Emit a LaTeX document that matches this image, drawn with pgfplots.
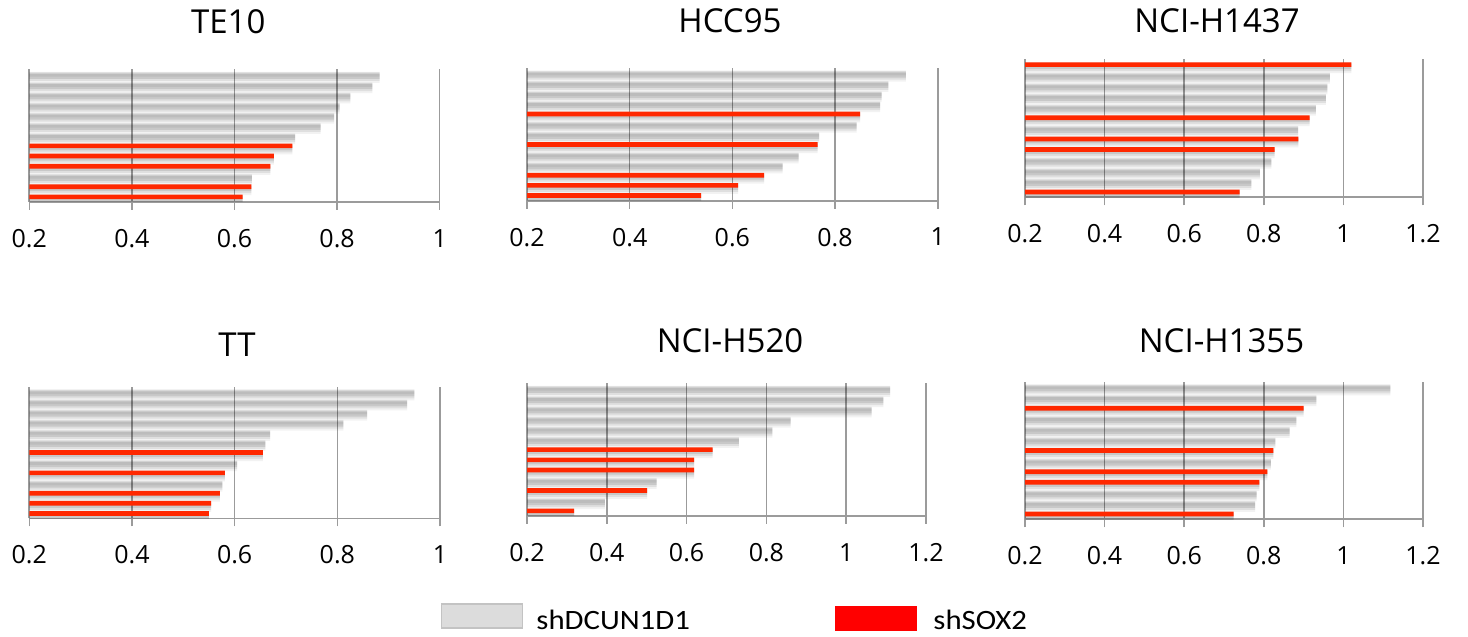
\documentclass[border=0pt]{standalone}
\usepackage{fontspec}
\setmainfont{Open Sans}
\newfontfamily\legfont[FakeStretch=1.1]{Carlito}
\usepackage{pgfplots}
\pgfplotsset{compat=1.18}
\usepackage{pgfplotstable}
\definecolor{barred}{RGB}{255,40,0}
\definecolor{gridgray}{RGB}{155,155,155}
\definecolor{leggray}{RGB}{220,220,220}
\definecolor{legborder}{RGB}{195,195,195}
\definecolor{legred}{RGB}{255,0,0}

% TE10
\pgfplotstableread{
y a g r
13 0.883 0.883 nan
12 0.869 0.869 nan
11 0.826 0.826 nan
10 0.805 0.805 nan
9 0.794 0.794 nan
8 0.768 0.768 nan
7 0.718 0.718 nan
6 0.713 nan 0.713
5 0.677 nan 0.677
4 0.670 nan 0.670
3 0.634 0.634 nan
2 0.633 nan 0.633
1 0.616 nan 0.616
}\tA
% HCC95
\pgfplotstableread{
y a g r
13 0.938 0.938 nan
12 0.904 0.904 nan
11 0.891 0.891 nan
10 0.888 0.888 nan
9 0.849 nan 0.849
8 0.842 0.842 nan
7 0.769 0.769 nan
6 0.766 nan 0.766
5 0.729 0.729 nan
4 0.698 0.698 nan
3 0.662 nan 0.662
2 0.611 nan 0.611
1 0.539 nan 0.539
}\tB
% NCI-H1437
\pgfplotstableread{
y a g r
13 1.020 nan 1.020
12 0.966 0.966 nan
11 0.960 0.960 nan
10 0.956 0.956 nan
9 0.931 0.931 nan
8 0.915 nan 0.915
7 0.886 0.886 nan
6 0.887 nan 0.887
5 0.827 nan 0.827
4 0.819 0.819 nan
3 0.790 0.790 nan
2 0.769 0.769 nan
1 0.739 nan 0.739
}\tC
% TT
\pgfplotstableread{
y a g r
13 0.950 0.950 nan
12 0.936 0.936 nan
11 0.858 0.858 nan
10 0.812 0.812 nan
9 0.669 0.669 nan
8 0.660 0.660 nan
7 0.655 nan 0.655
6 0.605 0.605 nan
5 0.581 nan 0.581
4 0.576 0.576 nan
3 0.571 nan 0.571
2 0.554 nan 0.554
1 0.550 nan 0.550
}\tD
% NCI-H520
\pgfplotstableread{
y a g r
13 1.110 1.110 nan
12 1.093 1.093 nan
11 1.064 1.064 nan
10 0.861 0.861 nan
9 0.815 0.815 nan
8 0.731 0.731 nan
7 0.665 nan 0.665
6 0.619 nan 0.619
5 0.619 nan 0.619
4 0.525 0.525 nan
3 0.501 nan 0.501
2 0.395 0.395 nan
1 0.318 nan 0.318
}\tE
% NCI-H1355
\pgfplotstableread{
y a g r
13 1.118 1.118 nan
12 0.932 0.932 nan
11 0.900 nan 0.900
10 0.882 0.882 nan
9 0.865 0.865 nan
8 0.829 0.829 nan
7 0.824 nan 0.824
6 0.818 0.818 nan
5 0.809 nan 0.809
4 0.789 nan 0.789
3 0.782 0.782 nan
2 0.778 0.778 nan
1 0.724 nan 0.724
}\tF

\pgfplotsset{
  panel/.style={
    scale only axis, anchor=south west,
    ymin=0.5, ymax=13.5, xmin=0.2,
    axis lines=left,
    axis line style={-, draw=gridgray, line width=1.8pt},
    xmajorgrids, grid style={draw=gridgray, line width=1.6pt},
    ytick=\empty,
    tick align=outside, major tick length=8pt,
    x tick style={draw=gridgray, line width=1.6pt},
    xticklabel style={font=\fontsize{25}{28}\selectfont, inner sep=0pt, anchor=north, yshift=-19pt},
  },
  sh1/.style={xbar, bar width=11pt, bar shift=-3pt, fill=black, fill opacity=0.05, draw=none},
  sh2/.style={xbar, bar width=8pt, bar shift=-2.5pt, fill=black, fill opacity=0.08, draw=none},
  sh3/.style={xbar, bar width=5pt, bar shift=-2pt, fill=black, fill opacity=0.10, draw=none},
  core/.style={xbar, bar width=4.5pt, bar shift=0pt, fill=black, fill opacity=0.06, draw=none},
  redbar/.style={xbar, bar width=4.7pt, bar shift=0pt, fill=barred, draw=none},
  ticksA/.style={xmax=1, xtick={0.2,0.4,0.6,0.8,1}, xticklabels={0.2,0.4,0.6,0.8,1}},
  ticksB/.style={xmax=1.2, xtick={0.2,0.4,0.6,0.8,1,1.2}, xticklabels={0.2,0.4,0.6,0.8,1,1.2}},
}
\newcommand{\panelplots}[1]{%
  \addplot[sh1] table[x=a,y=y]{#1};
  \addplot[sh2] table[x=a,y=y]{#1};
  \addplot[sh3] table[x=a,y=y]{#1};
  \addplot[core] table[x=g,y=y]{#1};
  \addplot[redbar] table[x=r,y=y]{#1};
}

\begin{document}
\begin{tikzpicture}
\path[use as bounding box] (0pt,0pt) rectangle (1468pt,637pt);

\begin{axis}[panel, ticksA, at={(29.3pt,435pt)}, width=410.4pt, height=132.7pt]
\panelplots{\tA}
\end{axis}
\begin{axis}[panel, ticksA, at={(527pt,436.3pt)}, width=410.7pt, height=132.7pt]
\panelplots{\tB}
\end{axis}
\begin{axis}[panel, ticksB, at={(1025pt,439.7pt)}, width=398pt, height=138pt]
\panelplots{\tC}
\end{axis}
\begin{axis}[panel, ticksA, at={(29.3pt,118.5pt)}, width=410.7pt, height=131.8pt]
\panelplots{\tD}
\end{axis}
\begin{axis}[panel, ticksB, at={(527pt,121pt)}, width=399pt, height=132.7pt]
\panelplots{\tE}
\end{axis}
\begin{axis}[panel, ticksB, at={(1025pt,117.7pt)}, width=398pt, height=137.6pt]
\panelplots{\tF}
\end{axis}

\begin{scope}[every node/.style={anchor=base, font=\fontsize{33}{36}\selectfont}]
\node at (228.3pt,603.7pt) {TE10};
\node at (730pt,604pt) {HCC95};
\node at (1217pt,604pt) {NCI-H1437};
\node at (237pt,280pt) {TT};
\node at (730pt,284.7pt) {NCI-H520};
\node at (1221.5pt,284.7pt) {NCI-H1355};
\end{scope}

% legends
\begin{axis}[at={(0pt,0pt)}, anchor=south west, scale only axis, width=1468pt, height=637pt,
  xmin=0, xmax=1, ymin=0, ymax=1, hide axis,
  legend image code/.code={\draw[#1] (0pt,-7pt) rectangle (81pt,17pt);},
  legend style={at={(441/1468,5.7/637)}, anchor=south west, draw=none, fill=none,
    inner sep=0pt, outer sep=0pt, font=\legfont\fontsize{28}{32}\selectfont,
    nodes={inner sep=0pt}, column sep=13pt}]
\addlegendimage{fill=leggray, draw=legborder, line width=1.5pt}
\addlegendentry{shDCUN1D1}
\end{axis}
\begin{axis}[at={(0pt,0pt)}, anchor=south west, scale only axis, width=1468pt, height=637pt,
  xmin=0, xmax=1, ymin=0, ymax=1, hide axis,
  legend image code/.code={\fill[#1] (0pt,-10.3pt) rectangle (81.6pt,15pt);},
  legend style={at={(834.9/1468,5.7/637)}, anchor=south west, draw=none, fill=none,
    inner sep=0pt, outer sep=0pt, font=\legfont\fontsize{28}{32}\selectfont,
    nodes={inner sep=0pt}, column sep=17pt}]
\addlegendimage{fill=legred, draw=none}
\addlegendentry{shSOX2}
\end{axis}
\end{tikzpicture}
\end{document}
